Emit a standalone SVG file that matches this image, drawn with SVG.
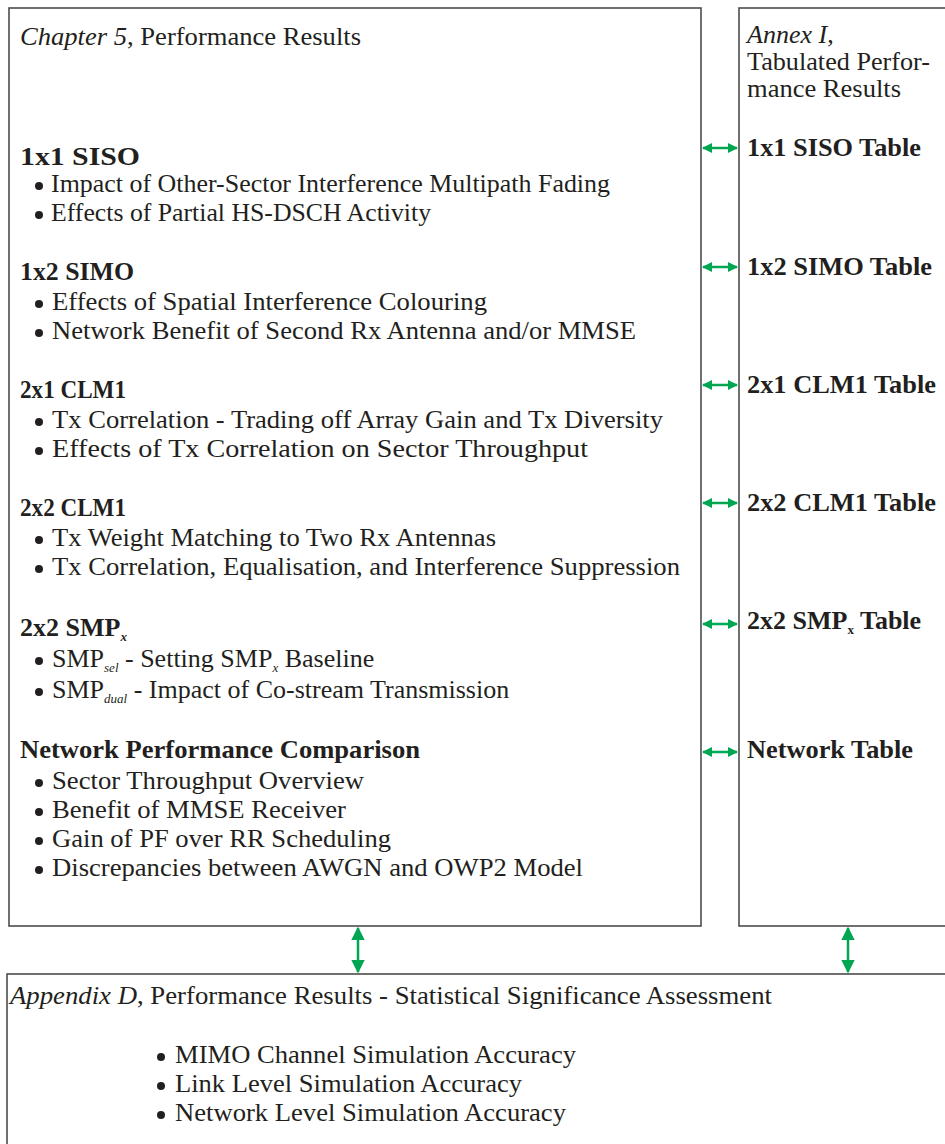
<svg xmlns="http://www.w3.org/2000/svg" width="945" height="1144" viewBox="0 0 945 1144">
<style>
text{font-family:"Liberation Serif","Times New Roman",serif;font-size:26px;fill:#231f20}
.b{font-weight:bold}
.i{font-style:italic}
.sub{font-size:13px;font-style:italic}
.box{fill:none;stroke:#4d4d4d;stroke-width:1.6}
.con{stroke:#00a651;stroke-width:2.5;fill:none}
.dot{fill:#231f20}
</style>
<defs>
<marker id="ah" viewBox="0 0 10 10" refX="9" refY="5" markerWidth="4" markerHeight="4" orient="auto-start-reverse" markerUnits="strokeWidth">
<path d="M0,0 L10,5 L0,10 z" fill="#00a651"/>
</marker>
<marker id="av" viewBox="0 0 10 10" refX="9" refY="5" markerWidth="5.5" markerHeight="5.5" orient="auto-start-reverse" markerUnits="strokeWidth">
<path d="M0,0 L10,5 L0,10 z" fill="#00a651"/>
</marker>
</defs>

<g id="chapter5">
<rect class="box" x="9" y="8" width="692" height="918"/>
<text x="20" y="45" textLength="341" lengthAdjust="spacingAndGlyphs"><tspan class="i">Chapter 5</tspan>, Performance Results</text>
<text class="b" x="20" y="165" textLength="120" lengthAdjust="spacingAndGlyphs">1x1 SISO</text>
<circle class="dot" cx="39" cy="186" r="4"/>
<text x="51" y="192" textLength="559" lengthAdjust="spacingAndGlyphs">Impact of Other-Sector Interference Multipath Fading</text>
<circle class="dot" cx="39" cy="215" r="4"/>
<text x="51" y="221" textLength="380" lengthAdjust="spacingAndGlyphs">Effects of Partial HS-DSCH Activity</text>

<text class="b" x="20" y="280" textLength="114" lengthAdjust="spacingAndGlyphs">1x2 SIMO</text>
<circle class="dot" cx="39" cy="304" r="4"/>
<text x="52" y="310" textLength="435" lengthAdjust="spacingAndGlyphs">Effects of Spatial Interference Colouring</text>
<circle class="dot" cx="39" cy="333" r="4"/>
<text x="52" y="339" textLength="584" lengthAdjust="spacingAndGlyphs">Network Benefit of Second Rx Antenna and/or MMSE</text>

<text class="b" x="20" y="398" textLength="106" lengthAdjust="spacingAndGlyphs">2x1 CLM1</text>
<circle class="dot" cx="39" cy="422" r="4"/>
<text x="52" y="428" textLength="611" lengthAdjust="spacingAndGlyphs">Tx Correlation - Trading off Array Gain and Tx Diversity</text>
<circle class="dot" cx="39" cy="451" r="4"/>
<text x="52" y="457" textLength="536" lengthAdjust="spacingAndGlyphs">Effects of Tx Correlation on Sector Throughput</text>

<text class="b" x="20" y="516" textLength="106" lengthAdjust="spacingAndGlyphs">2x2 CLM1</text>
<circle class="dot" cx="39" cy="540" r="4"/>
<text x="52" y="546" textLength="444" lengthAdjust="spacingAndGlyphs">Tx Weight Matching to Two Rx Antennas</text>
<circle class="dot" cx="39" cy="569" r="4"/>
<text x="52" y="575" textLength="628" lengthAdjust="spacingAndGlyphs">Tx Correlation, Equalisation, and Interference Suppression</text>

<text class="b" x="20" y="636">2x2 SMP<tspan class="sub" dy="5">x</tspan></text>
<circle class="dot" cx="39" cy="661" r="4"/>
<text x="52" y="667">SMP<tspan class="sub" dy="5">sel</tspan><tspan dy="-5"> - Setting SMP</tspan><tspan class="sub" dy="5">x</tspan><tspan dy="-5"> Baseline</tspan></text>
<circle class="dot" cx="39" cy="692" r="4"/>
<text x="52" y="698">SMP<tspan class="sub" dy="5">dual</tspan><tspan dy="-5"> - Impact of Co-stream Transmission</tspan></text>

<text class="b" x="20" y="758" textLength="400" lengthAdjust="spacingAndGlyphs">Network Performance Comparison</text>
<circle class="dot" cx="39" cy="783" r="4"/>
<text x="52" y="789" textLength="312" lengthAdjust="spacingAndGlyphs">Sector Throughput Overview</text>
<circle class="dot" cx="39" cy="812" r="4"/>
<text x="52" y="818" textLength="294" lengthAdjust="spacingAndGlyphs">Benefit of MMSE Receiver</text>
<circle class="dot" cx="39" cy="841" r="4"/>
<text x="52" y="847" textLength="339" lengthAdjust="spacingAndGlyphs">Gain of PF over RR Scheduling</text>
<circle class="dot" cx="39" cy="870" r="4"/>
<text x="52" y="876" textLength="531" lengthAdjust="spacingAndGlyphs">Discrepancies between AWGN and OWP2 Model</text>
</g>

<g id="annexI">
<rect class="box" x="739" y="8" width="220" height="918"/>
<text x="747" y="43"><tspan class="i">Annex I</tspan>,</text>
<text x="747" y="70" textLength="183" lengthAdjust="spacingAndGlyphs">Tabulated Perfor-</text>
<text x="747" y="97" textLength="154" lengthAdjust="spacingAndGlyphs">mance Results</text>
<text class="b" x="747" y="156" textLength="174" lengthAdjust="spacingAndGlyphs">1x1 SISO Table</text>
<text class="b" x="747" y="275" textLength="185" lengthAdjust="spacingAndGlyphs">1x2 SIMO Table</text>
<text class="b" x="747" y="393" textLength="189" lengthAdjust="spacingAndGlyphs">2x1 CLM1 Table</text>
<text class="b" x="747" y="511" textLength="189" lengthAdjust="spacingAndGlyphs">2x2 CLM1 Table</text>
<text class="b" x="747" y="629">2x2 SMP<tspan style="font-size:13px" dy="5">x</tspan><tspan dy="-5"> Table</tspan></text>
<text class="b" x="747" y="758" textLength="166" lengthAdjust="spacingAndGlyphs">Network Table</text>
</g>

<g id="appendixD">
<rect class="box" x="7" y="974" width="960" height="200"/>
<text x="10" y="1004" textLength="762" lengthAdjust="spacingAndGlyphs"><tspan class="i">Appendix D</tspan>, Performance Results - Statistical Significance Assessment</text>
<circle class="dot" cx="161" cy="1057" r="4"/>
<text x="175" y="1063" textLength="401" lengthAdjust="spacingAndGlyphs">MIMO Channel Simulation Accuracy</text>
<circle class="dot" cx="161" cy="1086" r="4"/>
<text x="175" y="1092" textLength="347" lengthAdjust="spacingAndGlyphs">Link Level Simulation Accuracy</text>
<circle class="dot" cx="161" cy="1115" r="4"/>
<text x="175" y="1121" textLength="391" lengthAdjust="spacingAndGlyphs">Network Level Simulation Accuracy</text>
</g>

<g id="connectors">
<line class="con" x1="703" y1="148" x2="737" y2="148" marker-start="url(#ah)" marker-end="url(#ah)"/>
<line class="con" x1="703" y1="267" x2="737" y2="267" marker-start="url(#ah)" marker-end="url(#ah)"/>
<line class="con" x1="703" y1="385" x2="737" y2="385" marker-start="url(#ah)" marker-end="url(#ah)"/>
<line class="con" x1="703" y1="503" x2="737" y2="503" marker-start="url(#ah)" marker-end="url(#ah)"/>
<line class="con" x1="703" y1="624" x2="737" y2="624" marker-start="url(#ah)" marker-end="url(#ah)"/>
<line class="con" x1="703" y1="752" x2="737" y2="752" marker-start="url(#ah)" marker-end="url(#ah)"/>
<line class="con" x1="358" y1="928" x2="358" y2="972" marker-start="url(#av)" marker-end="url(#av)"/>
<line class="con" x1="848" y1="928" x2="848" y2="972" marker-start="url(#av)" marker-end="url(#av)"/>
</g>
</svg>
